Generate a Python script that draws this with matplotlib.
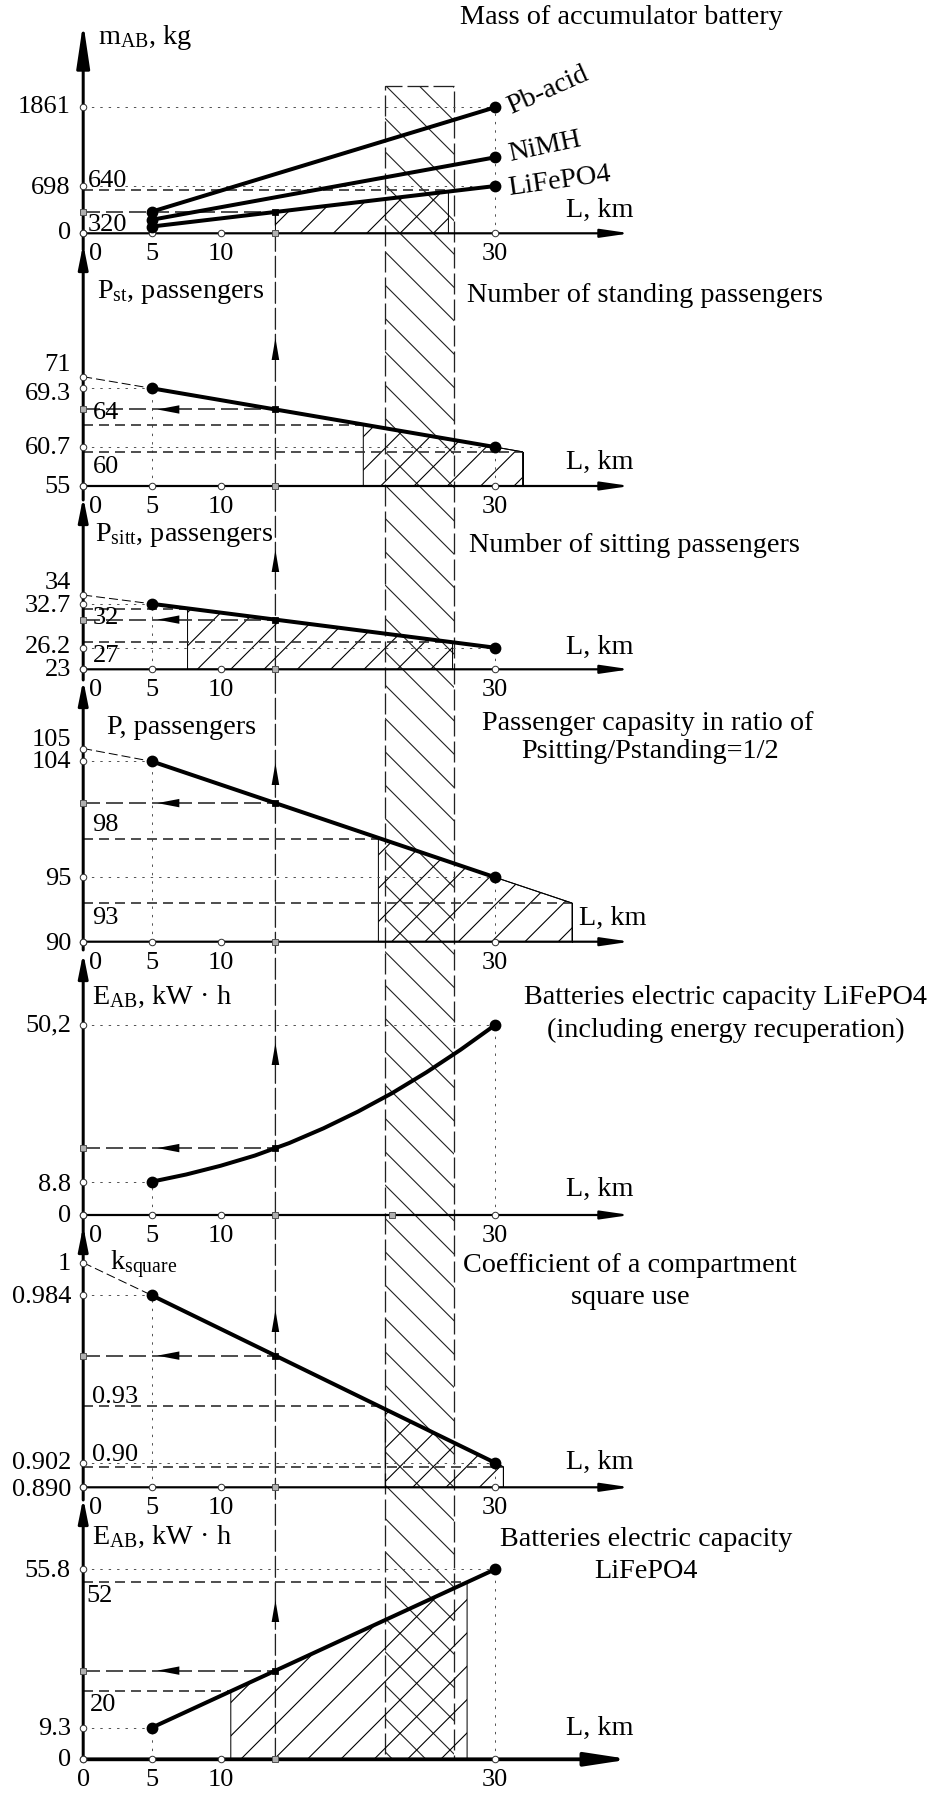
import numpy as np
import matplotlib
matplotlib.use("Agg")
import matplotlib.pyplot as plt
from matplotlib.patches import Polygon, Rectangle, ConnectionPatch
from matplotlib.transforms import blended_transform_factory

plt.rcParams["font.family"] = ["Liberation Serif", "DejaVu Serif"]
plt.rcParams["mathtext.fontset"] = "custom"
plt.rcParams["mathtext.rm"] = "Liberation Serif"
plt.rcParams["mathtext.it"] = "Liberation Serif:italic"
plt.rcParams["mathtext.bf"] = "Liberation Serif:bold"
plt.rcParams["hatch.linewidth"] = 0.4
plt.rcParams["lines.scale_dashes"] = False

# ======================= data =======================
L_TICKS = [0, 5, 10, 30]
L_TICK_LABELS = ["0", "5", "10", "30"]
L_ENDS = [5, 30]
L_SEL = 14
BAND_L = [22, 27]
BAND_TOP_MASS = 2175

# mass of accumulator battery, kg
MASS_PB = [320, 1861]
MASS_NIMH = [200, 1122]
MASS_LFP = [100, 698]
MASS_TICKS = [0, 698, 1861]
MASS_TICK_LABELS = ["0", "698", "1861"]
MASS_LIMITS = [640]
MASS_LIMIT_L = [26.6]
MASS_HATCH_L = [14, 26.6]

# standing passengers
PST_START = 71
PST = [69.3, 60.7]
PST_EXT = [32, 60]
PST_TICKS = [55, 60.7, 69.3, 71]
PST_TICK_LABELS = ["55", "60.7", "69.3", "71"]
PST_LIMITS = [64, 60]
PST_LIMIT_L = [20.4, 32]
PST_HATCH_L = [20.4, 32]

# sitting passengers
PSITT_START = 34
PSITT = [32.7, 26.2]
PSITT_TICKS = [23, 26.2, 32.7, 34]
PSITT_TICK_LABELS = ["23", "26.2", "32.7", "34"]
PSITT_LIMITS = [32, 27]
PSITT_LIMIT_L = [7.6, 26.9]
PSITT_HATCH_L = [7.6, 26.9]

# total passengers
P_START = 105
P_TOT = [104, 95]
P_EXT = [35.6, 93]
P_TICKS = [90, 95, 104, 105]
P_TICK_LABELS = ["90", "95", "104", "105"]
P_LIMITS = [98, 93]
P_LIMIT_L = [21.5, 35.6]
P_HATCH_L = [21.5, 35.6]

# battery capacity incl. recuperation (curve)
EREC_L = [5, 7.5, 10, 12.5, 15, 17.5, 20, 22.5, 25, 27.5, 30]
EREC = [8.8, 10.7, 13.0, 15.7, 19.0, 22.9, 27.3, 32.2, 37.7, 43.7, 50.2]
EREC_TICKS = [0, 8.8, 50.2]
EREC_TICK_LABELS = ["0", "8.8", "50,2"]
EREC_MARK_L = 22.5

# compartment square use coefficient
K_START = 1.0
K_SQ = [0.984, 0.902]
K_EXT = [30.6, 0.900]
K_TICKS = [0.890, 0.902, 0.984, 1.0]
K_TICK_LABELS = ["0.890", "0.902", "0.984", "1"]
K_LIMITS = [0.93, 0.90]
K_LIMIT_L = [22, 30.6]
K_HATCH_L = [22, 30.6]

# battery capacity LiFePO4
E_LFP = [9.3, 55.8]
E_TICKS = [0, 9.3, 55.8]
E_TICK_LABELS = ["0", "9.3", "55.8"]
E_LIMITS = [52, 20]
E_LIMIT_L = [27.96, 10.75]
E_HATCH_L = [10.75, 27.96]

# ======================= layout =======================
W, H, DPI = 927, 1793, 200
PT = 72.0 / DPI
fig = plt.figure(figsize=(W / DPI, H / DPI), dpi=DPI)
X0_PX, PX_KM = 83.2, 13.73
XLIM = (-X0_PX / PX_KM, (W - X0_PX) / PX_KM)
X_TIP = (630 - X0_PX) / PX_KM
FS = 9.5       # numbers
FS_T = 10.2    # words
THICK = 4.0 * PT

# top px, bottom px, axis px, base value, px per unit
LAYOUT = {
    "mass": (0, 250, 233.3, MASS_TICKS[0], 0.0677),
    "pst": (250, 500, 486.0, PST_TICKS[0], 6.83),
    "psitt": (500, 680, 669.3, PSITT_TICKS[0], 6.75),
    "ptot": (680, 950, 941.7, P_TICKS[0], 12.88),
    "erec": (950, 1240, 1215.0, EREC_TICKS[0], 3.785),
    "k": (1240, 1500, 1487.3, K_TICKS[0], 2041.8),
    "e": (1500, 1793, 1759.3, E_TICKS[0], 3.405),
}
Y_TIP_PX = {"mass": 23, "pst": 244, "psitt": 497, "ptot": 680, "erec": 953, "k": 1226, "e": 1498}
UP_TIP_PX = {"pst": 338, "psitt": 550, "ptot": 763, "erec": 1043, "k": 1310, "e": 1600}

DARK = "#222222"
DOT = dict(color="#555555", lw=1.0 * PT, ls=(0, (1.2 * PT * 2, 3.0 * PT * 2)))
LIMIT_DASH = dict(color="#333333", lw=1.7 * PT, ls=(0, (10 * PT, 6 * PT)))
ARROW_DASH = dict(color="#333333", lw=1.7 * PT, ls=(0, (17 * PT, 6 * PT)))
VERT_DASH = dict(color=DARK, lw=1.3 * PT, ls=(0, (21 * PT, 5 * PT)))


def fy(px):
    return 1 - px / H


def bt(ax):
    return blended_transform_factory(ax.transData, fig.transFigure)


def T(xpx, ypx, s, ha="left", size=FS, **kw):
    fig.text(xpx / W, fy(ypx), s, ha=ha, va="center", fontsize=size, **kw)


def head(length_px, half_px):
    return f"-|>,head_length={length_px * PT:.3f},head_width={half_px * PT:.3f}"


def setup(key):
    top, bot, axpx, base, sc = LAYOUT[key]
    ax = fig.add_axes([0, 1 - bot / H, 1, (bot - top) / H])
    ax.set_xlim(XLIM)
    ax.set_ylim(base - (bot - axpx) / sc, base + (axpx - top) / sc)
    ax.set_axis_off()
    ax.patch.set_visible(False)
    return ax


def ocirc(ax, xs, ys):
    ax.plot(xs, ys, "o", ms=6.5 * PT, mfc="white", mec="#333333", mew=1.0 * PT,
            zorder=6, clip_on=False)


def gsq(ax, xs, ys):
    ax.plot(xs, ys, "s", ms=6.5 * PT, mfc="#b0b0b0", mec="#555555", mew=1.0 * PT,
            zorder=6, clip_on=False)


def frame(ax, key):
    top, bot, axpx, base, sc = LAYOUT[key]
    last = key == "e"
    hl, hw = (36, 5.5) if last else (24, 3.5)
    ax.annotate("", xy=(X_TIP, base), xytext=(0, base), annotation_clip=False,
                arrowprops=dict(arrowstyle=head(hl, hw), mutation_scale=1,
                                lw=(3.8 if last else 2.2) * PT, color="k",
                                shrinkA=0, shrinkB=0), zorder=4)
    tr = bt(ax)
    hl, hw = (37, 5.5) if key == "mass" else (20, 4)
    if last:
        start, sc_ = (0, base), "data"
    else:
        start, sc_ = (0, fy(bot)), tr
    ax.annotate("", xy=(0, fy(Y_TIP_PX[key])), xycoords=tr, xytext=start, textcoords=sc_,
                annotation_clip=False,
                arrowprops=dict(arrowstyle=head(hl, hw), mutation_scale=1, lw=3.0 * PT,
                                color="k", shrinkA=0, shrinkB=0), zorder=4)
    ocirc(ax, L_TICKS, [base] * len(L_TICKS))
    gsq(ax, [L_SEL], [base])
    lab_y = axpx + 21
    for x, s in zip(L_TICKS, L_TICK_LABELS):
        xp = X0_PX + x * PX_KM
        if x == 0 and not last:
            xp = 96
        T(xp, lab_y, s, ha="center")


def up_arrow(ax, key):
    tr = bt(ax)
    tip = fy(UP_TIP_PX[key])
    ax.annotate("", xy=(L_SEL, tip), xycoords=tr, xytext=(L_SEL, tip - 40 / H), textcoords=tr,
                annotation_clip=False,
                arrowprops=dict(arrowstyle=head(22, 3.8), mutation_scale=1, lw=0,
                                color="k", shrinkA=0, shrinkB=0), zorder=5)


def selection(ax, key, v14, arrow=True):
    ax.plot([0, L_SEL], [v14, v14], zorder=3, **ARROW_DASH)
    ax.plot([L_SEL], [v14], "s", ms=5 * PT, color="k", zorder=7)
    gsq(ax, [0], [v14])
    if arrow:
        ax.annotate("", xy=(5.4, v14), xytext=(8.5, v14), annotation_clip=False,
                    arrowprops=dict(arrowstyle=head(22, 4.2), mutation_scale=1, lw=0,
                                    color="k", shrinkA=0, shrinkB=0), zorder=5)


def hatch_region(ax, base, Ls, vs, h0, h1):
    f0, f1 = np.interp(h0, Ls, vs), np.interp(h1, Ls, vs)
    inner = [(l, v) for l, v in zip(Ls, vs) if h0 < l < h1]
    pts = [(h0, base), (h0, f0)] + inner + [(h1, f1), (h1, base)]
    ax.add_patch(Polygon(pts, closed=True, facecolor="none", edgecolor="k",
                         hatch="//", lw=1.0 * PT, zorder=1))


def ytick_marks(ax, ticks):
    ocirc(ax, [0] * len(ticks), ticks)


def linear_panel(ax, key, start, vals, ext, ticks, limits, limit_L, hatch_L):
    base = LAYOUT[key][3]
    Ls = [0] + L_ENDS + ([ext[0]] if ext else [])
    vs = [start] + vals + ([ext[1]] if ext else [])
    frame(ax, key)
    for l, v in zip(L_ENDS, vals):
        ax.plot([0, l], [v, v], zorder=2, **DOT)
        ax.plot([l, l], [base, v], zorder=2, **DOT)
    for v, l in zip(limits, limit_L):
        ax.plot([0, l], [v, v], zorder=2, **LIMIT_DASH)
    hatch_region(ax, base, Ls, vs, hatch_L[0], hatch_L[1])
    if start is not None:
        ax.plot([0, L_ENDS[0]], [start, vals[0]], color="k", lw=1.0 * PT,
                ls=(0, (9 * PT, 4 * PT)), zorder=3)
    ax.plot(L_ENDS, vals, color="k", lw=THICK, zorder=5, solid_capstyle="round")
    if ext:
        ax.plot([L_ENDS[1], ext[0]], [vals[1], ext[1]], color="k", lw=1.0 * PT, zorder=3)
        ax.plot([ext[0], ext[0]], [base, ext[1]], color="k", lw=1.0 * PT, zorder=3)
    ax.plot(L_ENDS, vals, "o", ms=9 * PT, color="k", zorder=7)
    ytick_marks(ax, ticks)
    v14 = np.interp(L_SEL, Ls, vs)
    selection(ax, key, v14)
    up_arrow(ax, key)


axes = {k: setup(k) for k in LAYOUT}

# ---------- panel 1: mass ----------
ax = axes["mass"]
frame(ax, "mass")
for v in (MASS_PB[1], MASS_LFP[1]):
    ax.plot([0, L_ENDS[1]], [v, v], zorder=2, **DOT)
ax.plot([L_ENDS[1], L_ENDS[1]], [0, MASS_PB[1]], zorder=2, **DOT)
for v, l in zip(MASS_LIMITS, MASS_LIMIT_L):
    ax.plot([0, l], [v, v], zorder=2, **LIMIT_DASH)
hatch_region(ax, 0, L_ENDS, MASS_LFP, MASS_HATCH_L[0], MASS_HATCH_L[1])
for series in (MASS_PB, MASS_NIMH, MASS_LFP):
    ax.plot(L_ENDS, series, color="k", lw=THICK, zorder=5, solid_capstyle="round")
    ax.plot(L_ENDS, series, "o", ms=9 * PT, color="k", zorder=7)
ytick_marks(ax, MASS_TICKS)
selection(ax, "mass", np.interp(L_SEL, L_ENDS, MASS_LFP), arrow=False)

# ---------- panels 2,3,4,6 ----------
linear_panel(axes["pst"], "pst", PST_START, PST, PST_EXT, PST_TICKS, PST_LIMITS,
             PST_LIMIT_L, PST_HATCH_L)
linear_panel(axes["psitt"], "psitt", PSITT_START, PSITT, None, PSITT_TICKS, PSITT_LIMITS,
             PSITT_LIMIT_L, PSITT_HATCH_L)
linear_panel(axes["ptot"], "ptot", P_START, P_TOT, P_EXT, P_TICKS, P_LIMITS,
             P_LIMIT_L, P_HATCH_L)
linear_panel(axes["k"], "k", K_START, K_SQ, K_EXT, K_TICKS, K_LIMITS, K_LIMIT_L, K_HATCH_L)

# ---------- panel 7 ----------
ax = axes["e"]
frame(ax, "e")
for l, v in zip(L_ENDS, E_LFP):
    ax.plot([0, l], [v, v], zorder=2, **DOT)
    ax.plot([l, l], [0, v], zorder=2, **DOT)
for v, l in zip(E_LIMITS, E_LIMIT_L):
    ax.plot([0, l], [v, v], zorder=2, **LIMIT_DASH)
hatch_region(ax, 0, L_ENDS, E_LFP, E_HATCH_L[0], E_HATCH_L[1])
ax.plot(L_ENDS, E_LFP, color="k", lw=THICK, zorder=5, solid_capstyle="round")
ax.plot(L_ENDS, E_LFP, "o", ms=9 * PT, color="k", zorder=7)
ytick_marks(ax, E_TICKS)
selection(ax, "e", np.interp(L_SEL, L_ENDS, E_LFP))
up_arrow(ax, "e")

# ---------- panel 5 (curve) ----------
ax = axes["erec"]
frame(ax, "erec")
for l, v in ((EREC_L[0], EREC[0]), (EREC_L[-1], EREC[-1])):
    ax.plot([0, l], [v, v], zorder=2, **DOT)
    ax.plot([l, l], [0, v], zorder=2, **DOT)
ax.plot(EREC_L, EREC, color="k", lw=THICK, zorder=5, solid_capstyle="round",
        solid_joinstyle="round")
ax.plot([EREC_L[0], EREC_L[-1]], [EREC[0], EREC[-1]], "o", ms=9 * PT, color="k", zorder=7)
ytick_marks(ax, EREC_TICKS)
gsq(ax, [EREC_MARK_L], [0])
selection(ax, "erec", np.interp(L_SEL, EREC_L, EREC))
up_arrow(ax, "erec")

# ---------- band and selection line spanning all panels ----------
inv = fig.transFigure.inverted()
x0f, y0f = inv.transform(axes["e"].transData.transform((BAND_L[0], 0)))
x1f, y1f = inv.transform(axes["mass"].transData.transform((BAND_L[1], BAND_TOP_MASS)))
fig.add_artist(Rectangle((x0f, y0f), x1f - x0f, y1f - y0f, transform=fig.transFigure,
                         facecolor="none", edgecolor=DARK, hatch="\\\\", lw=0, zorder=-1))
fig.add_artist(Rectangle((x0f, y0f), x1f - x0f, y1f - y0f, transform=fig.transFigure,
                         fill=False, edgecolor=DARK, lw=VERT_DASH["lw"], ls=VERT_DASH["ls"],
                         zorder=-1))
con = ConnectionPatch(xyA=(L_SEL, 0), coordsA=axes["e"].transData,
                      xyB=(L_SEL, np.interp(L_SEL, L_ENDS, MASS_LFP)),
                      coordsB=axes["mass"].transData,
                      color=DARK, lw=VERT_DASH["lw"], ls=VERT_DASH["ls"], zorder=-0.5)
fig.add_artist(con)

# ======================= texts =======================
RX = 71
YLABELS = [
    ("1861", 107), ("698", 188), ("0", 233),
    ("71", 365), ("69.3", 394), ("60.7", 448), ("55", 487),
    ("34", 583), ("32.7", 606), ("26.2", 647), ("23", 670),
    ("105", 740), ("104", 762), ("95", 879), ("90", 944),
    ("50,2", 1025), ("8.8", 1185), ("0", 1216),
    ("1", 1264), ("0.984", 1297), ("0.902", 1463), ("0.890", 1490),
    ("55.8", 1571), ("9.3", 1729), ("0", 1760),
]
for s, yp in YLABELS:
    T(RX, yp, s, ha="right")

INNER = [("640", 88, 181), ("320", 88, 225), ("64", 93, 413), ("60", 93, 467),
         ("32", 93, 618), ("27", 93, 656), ("98", 92, 825), ("93", 92, 918),
         ("0.93", 92, 1397), ("0.90", 92, 1455), ("52", 86, 1596), ("20", 90, 1705)]
for s, xp, yp in INNER:
    T(xp, yp, s)

AXTITLES = [(r"m$_{\mathrm{AB}}$, kg", 98, 37), (r"P$_{\mathrm{st}}$, passengers", 97, 292),
            (r"P$_{\mathrm{sitt}}$, passengers", 95, 535), ("P, passengers", 107, 727),
            (r"E$_{\mathrm{AB}}$, kW · h", 92, 997), (r"k$_{\mathrm{square}}$", 110, 1265),
            (r"E$_{\mathrm{AB}}$, kW · h", 92, 1537)]
for s, xp, yp in AXTITLES:
    T(xp, yp, s, size=FS_T)

TITLES = [("Mass of accumulator battery", 621, 18),
          ("Number of standing passengers", 645, 295),
          ("Number of sitting passengers", 634, 545),
          ("Passenger capasity in ratio of", 648, 723),
          ("Psitting/Pstanding=1/2", 650, 752),
          ("Batteries electric capacity LiFePO4", 725, 998),
          ("(including energy recuperation)", 726, 1030),
          ("Coefficient of a compartment", 630, 1265),
          ("square use", 630, 1297),
          ("Batteries electric capacity", 646, 1540),
          ("LiFePO4", 646, 1572)]
for s, xp, yp in TITLES:
    T(xp, yp, s, ha="center", size=FS_T)

for xp, yp in [(566, 210), (566, 462), (566, 647), (579, 918), (566, 1189), (566, 1462),
               (566, 1728)]:
    T(xp, yp, "L, km", size=FS_T)

for s, xp, yp, rot in [("Pb-acid", 548, 91, 24), ("NiMH", 545, 147, 12),
                       ("LiFePO4", 560, 181, 8)]:
    fig.text(xp / W, fy(yp), s, ha="center", va="center", rotation=rot,
             rotation_mode="anchor", fontsize=FS_T)

fig.savefig("out.png", dpi=DPI)
